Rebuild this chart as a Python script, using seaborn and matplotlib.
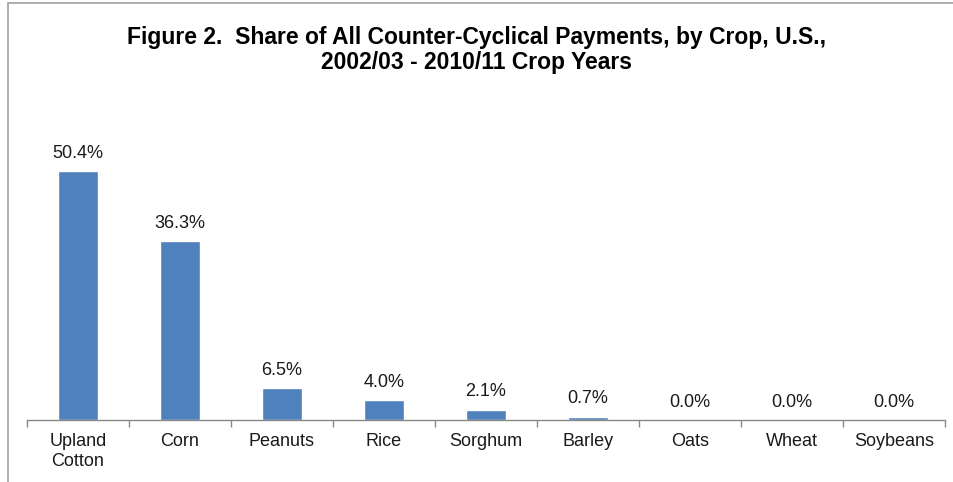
import matplotlib
matplotlib.use("Agg")
import matplotlib.pyplot as plt
import seaborn as sns
import numpy as np
import pandas as pd
from matplotlib.patches import Rectangle

crops = ["Upland\nCotton", "Corn", "Peanuts", "Rice", "Sorghum", "Barley", "Oats", "Wheat", "Soybeans"]
shares = [50.4, 36.3, 6.5, 4.0, 2.1, 0.7, 0.0, 0.2, 0.2]
share_labels = ["50.4%", "36.3%", "6.5%", "4.0%", "2.1%", "0.7%", "0.0%", "0.0%", "0.0%"]
title = "Figure 2.  Share of All Counter-Cyclical Payments, by Crop, U.S.,\n2002/03 - 2010/11 Crop Years"

sns.set_theme(style="white")
plt.rcParams["font.family"] = ["Liberation Sans", "DejaVu Sans"]

df = pd.DataFrame({"crop": crops, "share": shares})

fig = plt.figure(figsize=(9.54, 4.82), dpi=100)
ax = fig.add_axes([27/954, (482-420)/482, (945-27)/954, (420-124)/482])
sns.barplot(data=df, x="crop", y="share", color="#4F81BD", width=0.4, saturation=1, ax=ax)

ax.set_ylim(0, 60)
ax.set_xlim(-0.5, len(crops)-0.5)
ax.set_xlabel("")
ax.set_ylabel("")
ax.set_yticks([])
for s in ["top", "right", "left"]:
    ax.spines[s].set_visible(False)
ax.spines["bottom"].set_color("#888888")
ax.spines["bottom"].set_linewidth(1)

ax.tick_params(axis="x", which="major", length=0, pad=9, labelsize=13, colors="#1a1a1a")
for lbl in ax.get_xticklabels():
    lbl.set_linespacing(1.3)
ax.set_xticks(np.arange(-0.5, len(crops), 1.0), minor=True)
ax.tick_params(axis="x", which="minor", length=5, width=1, color="#888888", direction="out", bottom=True)

for i, (v, lab) in enumerate(zip(shares, share_labels)):
    ax.text(i, max(v, 0.0) + 1.9 if v > 0.5 else 1.9, lab, ha="center", va="bottom", fontsize=13, color="#1a1a1a")

fig.text(477/954, 1 - 50/482, title, ha="center", va="center", fontsize=16.5, fontweight="bold",
         linespacing=1.12, color="black")

fig.patches.append(Rectangle((8/954, -0.05), 1.2, 1.05 - 2.5/482, transform=fig.transFigure,
                             fill=False, edgecolor="#A0A0A0", linewidth=1.2))

fig.savefig("out.png", dpi=100)
